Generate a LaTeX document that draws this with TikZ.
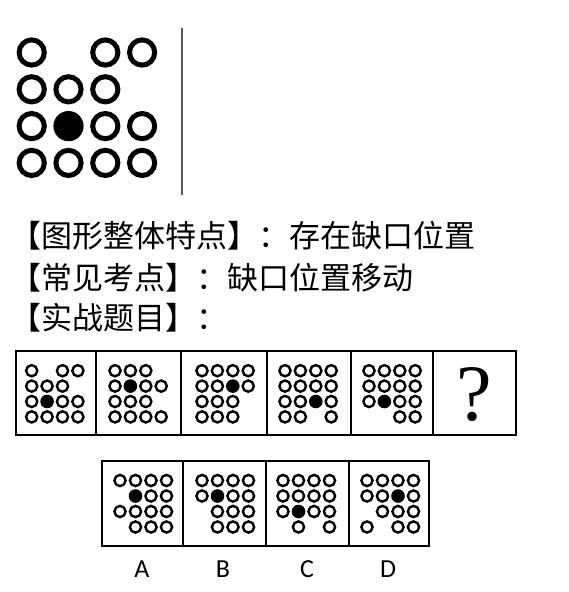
\documentclass[tikz,border=0pt]{standalone}
\usepackage{fontspec}
\newfontfamily\cjk{Noto Sans CJK SC}
\newfontfamily\lbl{Carlito}
\newfontfamily\qfont{Liberation Serif}
\begin{document}
\begin{tikzpicture}[x=1pt,y=-1pt,
  panel/.style={draw=black,line width=1.6pt},
  divider/.style={draw=black!65,line width=1.6pt},
  cjktext/.style={anchor=base west,inner sep=0pt,font=\cjk\fontsize{31}{31}\selectfont},
  optlabel/.style={inner sep=0pt,font=\lbl\fontsize{26}{26}\selectfont}]
\useasboundingbox (0,0) rectangle (568,592);
\fill[white] (0,0) rectangle (568,592);
% grid macro: x0, y0, pitch, radius, line width, pattern (0 none, 1 ring, 2 filled)
\newcommand\dotgrid[6]{%
  \foreach \c [count=\i from 0] in {#6}{%
    \pgfmathtruncatemacro\col{mod(\i,4)}%
    \pgfmathtruncatemacro\row{int(\i/4)}%
    \ifnum\c=1 \draw[line width=#5] ({#1+\col*#3},{#2+\row*#3}) circle[radius=#4];\fi
    \ifnum\c=2 \fill ({#1+\col*#3},{#2+\row*#3}) circle[radius={#4+#5/2}];\fi
  }}
% top big grid
\dotgrid{31.7}{52.5}{36.8}{12.6}{5pt}{1,0,1,1, 1,1,1,0, 1,2,1,1, 1,1,1,1}
\coordinate (vt) at (182,28);
\coordinate (vb) at (182,195);
\draw[divider] (vt) -- (vb);
% text
\node[cjktext] (t1) at (10,247) {【图形整体特点】：存在缺口位置};
\node[cjktext] (t2) at (10,289) {【常见考点】：缺口位置移动};
\node[cjktext] (t3) at (10,329) {【实战题目】：};
% sequence row
\draw[panel] (16,351) rectangle (516,435);
\foreach \x in {96,181,267,351,433}{\draw[panel] (\x,351) -- (\x,435);}
\dotgrid{31.7}{370.7}{15.4}{5.6}{2.4pt}{1,0,1,1, 1,1,1,0, 1,2,1,1, 1,1,1,1}
\dotgrid{115}{370.7}{15.4}{5.6}{2.4pt}{1,1,1,0, 1,2,1,1, 1,1,1,0, 1,1,1,1}
\dotgrid{202}{370.7}{15.4}{5.6}{2.4pt}{1,1,1,1, 1,1,2,1, 1,1,1,0, 1,1,1,0}
\dotgrid{285}{370.7}{15.4}{5.6}{2.4pt}{1,1,1,1, 1,1,1,1, 1,1,2,1, 1,1,0,1}
\dotgrid{369}{370.7}{15.4}{5.6}{2.4pt}{1,1,1,1, 1,1,1,1, 1,2,1,1, 0,0,1,1}
\node[inner sep=0pt,font=\qfont\fontsize{80}{80}\selectfont] (q) at (474,395) {?};
% options row
\draw[panel] (102,461) rectangle (429,546);
\foreach \x in {183,266,349}{\draw[panel] (\x,461) -- (\x,546);}
\dotgrid{120}{480.5}{15.5}{5.6}{2.4pt}{1,1,1,1, 0,2,1,1, 1,1,1,1, 0,1,1,1}
\dotgrid{202}{480.5}{15.5}{5.6}{2.4pt}{1,1,1,1, 1,2,1,1, 0,1,1,1, 0,1,1,1}
\dotgrid{283}{480.5}{15.5}{5.6}{2.4pt}{1,1,1,1, 1,1,1,1, 1,2,1,1, 0,1,0,1}
\dotgrid{367}{480.5}{15.5}{5.6}{2.4pt}{1,1,1,1, 1,1,2,1, 0,1,1,1, 1,0,1,1}
\node[optlabel] (la) at (142,569) {A};
\node[optlabel] (lb) at (223,569) {B};
\node[optlabel] (lc) at (307,569) {C};
\node[optlabel] (ld) at (388,569) {D};
\end{tikzpicture}
\end{document}
